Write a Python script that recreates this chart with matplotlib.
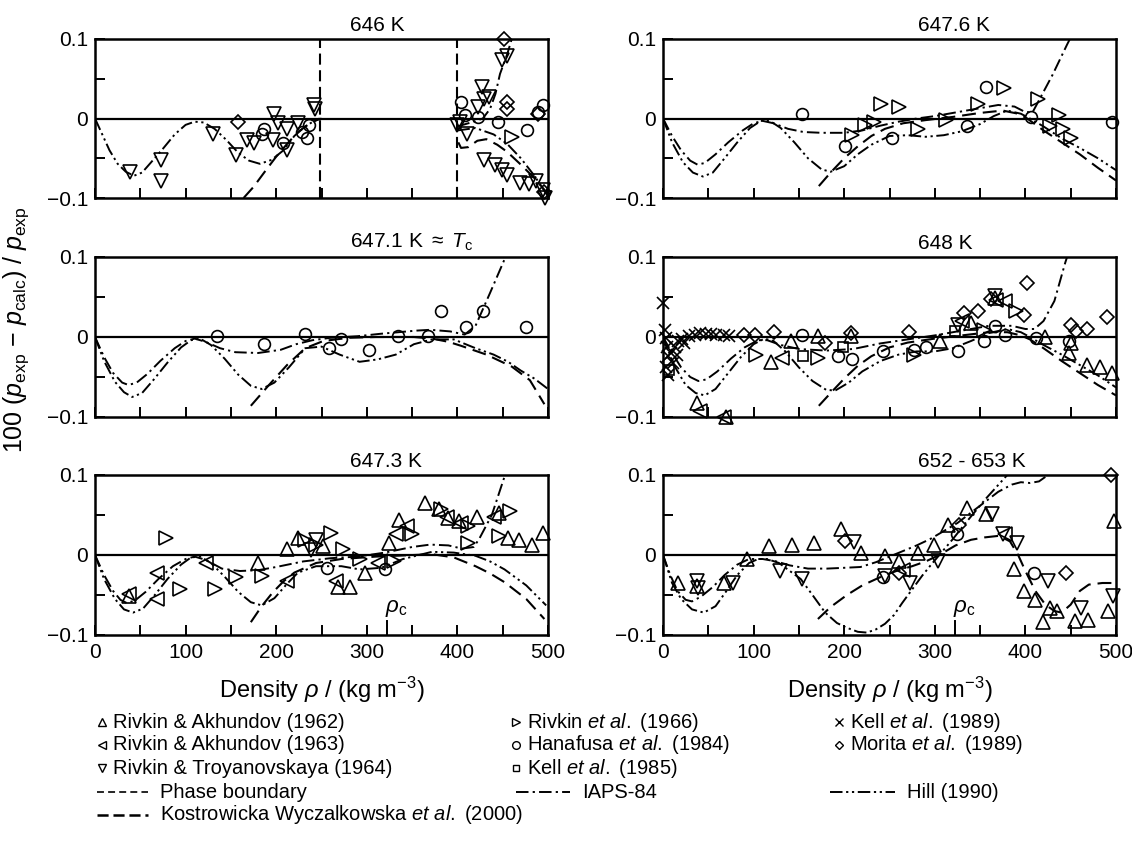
import matplotlib
matplotlib.use('Agg')
import matplotlib.pyplot as plt
from matplotlib.ticker import MultipleLocator

plt.rcParams['font.family'] = ['Liberation Sans', 'DejaVu Sans']
plt.rcParams['mathtext.fontset'] = 'custom'
plt.rcParams['mathtext.rm'] = 'Liberation Sans'
plt.rcParams['mathtext.it'] = 'Liberation Sans:italic'
plt.rcParams['mathtext.bf'] = 'Liberation Sans:bold'
plt.rcParams['lines.scale_dashes'] = False

# ---------------- data (density kg/m3, 100*dp/p) ----------------
# 646 K
t646_rt64 = [(39, -0.067), (73, -0.052), (73, -0.079), (130, -0.019), (156, -0.046),
             (168, -0.027), (176, -0.031), (198, 0.006), (202, -0.006), (196, -0.027),
             (212, -0.04), (212, -0.013), (224, -0.006), (242, 0.017), (243, 0.012),
             (400, -0.008), (403, -0.004), (411, -0.019), (423, 0.015), (427, 0.04),
             (429, 0.025), (435, 0.027), (449, 0.073), (455, 0.079), (429, -0.052),
             (441, -0.058), (449, -0.065), (455, -0.071), (469, -0.081), (479, -0.083),
             (487, -0.079), (495, -0.09), (497, -0.1)]
t646_han = [(184, -0.019), (186, -0.013), (208, -0.031), (228, -0.017), (234, -0.025),
            (236, -0.008), (404, 0.021), (408, 0.004), (423, 0.002), (445, -0.004),
            (477, -0.015), (489, 0.008), (495, 0.017)]
t646_mor = [(158, -0.004), (451, 0.1), (455, 0.021), (455, 0.012), (489, 0.006), (496, -0.092)]
t646_rv66 = [(460, -0.023)]
t646_phase = [248, 400]
t646_iaps = [(400, -0.01), (415, -0.005), (428, 0.0), (436, 0.012), (442, 0.031),
             (447, 0.056), (455, 0.081), (460, 0.1)]
t646_hill = [(0, 0), (8, -0.02), (16, -0.04), (25, -0.057), (34, -0.067), (43, -0.072),
             (52, -0.068), (62, -0.055), (75, -0.038), (88, -0.02), (100, -0.008),
             (110, -0.004), (120, -0.005), (132, -0.013), (145, -0.027), (158, -0.043),
             (170, -0.053), (182, -0.057), (195, -0.052), (208, -0.04), (220, -0.022),
             (232, -0.01), (242, -0.003), (250, 0.0)]
t646_hill_b = [(400, -0.015), (420, -0.012), (440, -0.02), (455, -0.032), (470, -0.05),
               (485, -0.072), (500, -0.098)]
t646_kw = [(164, -0.1), (175, -0.086), (188, -0.066), (200, -0.048), (212, -0.032),
           (224, -0.017), (236, -0.007), (248, 0.0)]
t646_kw_b = [(401, -0.03), (404, -0.037), (412, -0.036), (422, -0.028), (432, -0.026),
             (444, -0.033), (455, -0.042), (470, -0.058), (485, -0.075), (500, -0.095)]

# 647.6 K
t6476_han = [(153, 0.006), (201, -0.035), (253, -0.024), (336, -0.01), (356, 0.039),
             (406, 0.002), (496, -0.004)]
t6476_rv66 = [(241, 0.018), (261, 0.015), (209, -0.021), (223, -0.008), (233, -0.005),
              (281, -0.013), (312, -0.002), (348, 0.018), (376, 0.038), (414, 0.024),
              (437, 0.004), (427, -0.01), (442, -0.013), (450, -0.025)]
t6476_iaps = [(0, 0), (10, -0.022), (20, -0.04), (30, -0.053), (38, -0.058), (46, -0.056),
              (58, -0.045), (72, -0.03), (88, -0.015), (100, -0.006), (110, -0.003),
              (122, -0.006), (138, -0.013), (155, -0.017), (175, -0.018), (200, -0.018),
              (220, -0.015), (240, -0.009), (260, -0.004), (280, 0.0), (300, 0.003),
              (320, 0.007), (345, 0.012), (370, 0.017), (388, 0.015), (400, 0.008),
              (408, 0.008), (416, 0.025), (430, 0.055), (446, 0.093), (450, 0.102)]
t6476_hill = [(0, 0), (10, -0.03), (22, -0.055), (33, -0.068), (44, -0.073), (55, -0.068),
              (68, -0.05), (82, -0.03), (96, -0.012), (108, -0.003), (118, -0.003),
              (130, -0.012), (145, -0.03), (160, -0.05), (175, -0.064), (185, -0.067),
              (200, -0.06), (215, -0.045), (230, -0.033), (250, -0.022), (270, -0.021),
              (290, -0.023), (310, -0.021), (330, -0.016), (350, -0.007), (365, 0.003),
              (380, 0.01), (395, 0.006), (405, 0.0), (420, -0.01), (440, -0.025),
              (460, -0.037), (480, -0.05), (500, -0.065)]
t6476_kw = [(172, -0.085), (185, -0.068), (200, -0.05), (215, -0.035), (230, -0.022),
            (245, -0.013), (265, -0.006), (290, -0.002), (320, 0.002), (350, 0.007),
            (375, 0.01), (392, 0.006), (402, 0.0), (420, -0.015), (440, -0.03),
            (460, -0.045), (480, -0.062), (500, -0.078)]

# 647.1 K
t6471_han = [(135, 0.001), (187, -0.009), (232, 0.004), (258, -0.014), (272, -0.003),
             (302, -0.016), (334, 0.001), (368, 0.001), (382, 0.032), (410, 0.013),
             (428, 0.032), (476, 0.013)]
t6471_iaps = [(0, 0), (10, -0.025), (20, -0.045), (30, -0.057), (37, -0.06), (46, -0.057),
              (58, -0.046), (72, -0.03), (88, -0.014), (100, -0.005), (110, -0.002),
              (122, -0.006), (138, -0.014), (155, -0.019), (180, -0.02), (205, -0.016),
              (222, -0.009), (240, -0.004), (260, -0.001), (290, 0.001), (315, 0.004),
              (335, 0.006), (355, 0.008), (370, 0.009), (392, 0.007), (408, 0.003),
              (420, 0.014), (436, 0.055), (452, 0.097), (454, 0.102)]
t6471_hill = [(0, 0), (10, -0.03), (22, -0.056), (32, -0.069), (41, -0.075), (52, -0.07),
              (65, -0.053), (80, -0.032), (95, -0.013), (106, -0.004), (116, -0.002),
              (128, -0.01), (143, -0.027), (158, -0.047), (172, -0.061), (184, -0.065),
              (198, -0.057), (214, -0.038), (232, -0.014), (250, -0.012), (270, -0.022),
              (292, -0.031), (312, -0.028), (332, -0.022), (352, -0.009), (372, -0.003),
              (396, -0.003), (420, -0.014), (440, -0.022), (456, -0.031), (470, -0.042),
              (485, -0.052), (500, -0.065)]
t6471_kw = [(172, -0.086), (192, -0.06), (212, -0.035), (232, -0.014), (252, -0.005),
            (280, -0.001), (310, 0.0), (332, 0.0), (352, 0.0), (372, -0.002),
            (390, -0.006), (404, -0.011), (432, -0.022), (460, -0.037), (480, -0.054),
            (496, -0.084)]

# 648 K
t648_ra62 = [(38, -0.083), (69, -0.1), (119, -0.031), (141, -0.005), (171, 0.001),
             (207, 0.001), (306, -0.005), (340, 0.018), (366, 0.049), (422, 0.0),
             (450, -0.008), (448, -0.02), (468, -0.035), (482, -0.037), (496, -0.045)]
t648_ra63 = [(41, -0.093), (67, -0.1), (131, -0.026), (368, 0.046), (378, 0.045),
             (330, 0.02)]
t648_rt64 = [(366, 0.051), (326, 0.015)]
t648_rv66 = [(103, -0.022), (171, -0.026), (277, -0.022), (354, 0.009), (390, 0.032)]
t648_han = [(153, 0.002), (193, -0.024), (209, -0.028), (243, -0.018), (277, -0.016),
            (290, -0.012), (326, -0.018), (354, -0.005), (366, 0.014), (378, 0.003),
            (412, -0.001), (448, -0.005)]
t648_k85 = [(7, -0.041), (155, -0.024), (199, -0.012), (322, 0.007)]
t648_k89 = [(0, 0.043), (2, 0.009), (3, -0.001), (4, -0.012), (5, -0.024), (3, -0.037),
            (5, -0.047), (9, -0.02), (11, -0.033), (13, -0.012), (15, -0.022),
            (17, -0.005), (21, -0.003), (23, -0.008), (29, 0.001), (35, 0.003),
            (41, 0.005), (47, 0.004), (53, 0.004), (59, 0.003), (67, 0.002), (73, 0.001)]
t648_mor = [(89, 0.002), (101, 0.003), (123, 0.006), (179, -0.008), (207, 0.005),
            (271, 0.006), (332, 0.03), (348, 0.032), (362, 0.047), (398, 0.027),
            (402, 0.067), (450, 0.015), (456, 0.007), (468, 0.01), (490, 0.025)]
t648_iaps = [(0, 0), (10, -0.02), (20, -0.038), (30, -0.05), (39, -0.055), (48, -0.053),
             (60, -0.043), (75, -0.027), (90, -0.013), (105, -0.004), (115, -0.004),
             (130, -0.01), (150, -0.015), (180, -0.017), (210, -0.015), (240, -0.008),
             (270, -0.003), (300, 0.002), (330, 0.008), (360, 0.014), (385, 0.014),
             (400, 0.01), (410, 0.01), (420, 0.02), (432, 0.045), (444, 0.093), (446, 0.1)]
t648_hill = [(0, 0), (12, -0.035), (25, -0.06), (36, -0.07), (46, -0.073), (58, -0.065),
             (72, -0.045), (86, -0.025), (100, -0.009), (112, -0.002), (122, -0.005),
             (135, -0.018), (150, -0.038), (165, -0.055), (180, -0.066), (190, -0.067),
             (205, -0.057), (220, -0.043), (240, -0.03), (260, -0.022), (280, -0.018),
             (300, -0.018), (320, -0.014), (340, -0.005), (360, 0.005), (380, 0.01),
             (395, 0.006), (405, 0.0), (420, -0.01), (440, -0.022), (460, -0.035),
             (480, -0.048), (500, -0.063)]
t648_kw = [(172, -0.086), (185, -0.07), (200, -0.052), (215, -0.036), (230, -0.024),
           (250, -0.013), (270, -0.007), (300, -0.002), (330, 0.002), (360, 0.006),
           (380, 0.006), (395, 0.002), (405, -0.003), (420, -0.014), (440, -0.03),
           (460, -0.045), (480, -0.06), (500, -0.073)]

# 647.3 K
t6473_ra62 = [(38, -0.051), (180, -0.01), (212, 0.007), (224, 0.021), (252, 0.011),
              (268, -0.04), (282, -0.04), (298, -0.022), (324, 0.015), (336, 0.044),
              (364, 0.065), (380, 0.057), (390, 0.046), (402, 0.042), (422, 0.048),
              (446, 0.052), (456, 0.021), (468, 0.019), (482, 0.013), (494, 0.028)]
t6473_ra63 = [(38, -0.049), (68, -0.055), (68, -0.022), (122, -0.01), (212, -0.032),
              (266, -0.032), (312, -0.01), (332, 0.026), (344, 0.036), (388, 0.048),
              (404, 0.04), (440, 0.048)]
t6473_rv66 = [(78, 0.021), (94, -0.043), (132, -0.043), (156, -0.028), (184, -0.026),
              (232, 0.019), (244, 0.013), (260, 0.028), (274, 0.007), (292, -0.005),
              (330, -0.007), (350, 0.026), (382, 0.057), (412, 0.036), (412, 0.015),
              (446, 0.024), (458, 0.055)]
t6473_rt64 = [(244, 0.019), (238, 0.006)]
t6473_han = [(256, -0.016), (320, -0.018)]
t6473_iaps = [(0, 0), (10, -0.025), (20, -0.045), (28, -0.056), (35, -0.06), (44, -0.057),
              (56, -0.046), (70, -0.03), (86, -0.014), (100, -0.005), (110, -0.002),
              (122, -0.006), (140, -0.017), (160, -0.02), (180, -0.019), (200, -0.015),
              (230, -0.008), (260, -0.004), (290, -0.002), (320, 0.003), (350, 0.01),
              (370, 0.013), (390, 0.012), (405, 0.008), (418, 0.01), (424, 0.02),
              (438, 0.05), (452, 0.098), (453, 0.102)]
t6473_hill = [(0, 0), (10, -0.03), (22, -0.055), (32, -0.068), (42, -0.072), (53, -0.067),
              (66, -0.05), (80, -0.03), (95, -0.012), (106, -0.003), (116, -0.002),
              (128, -0.01), (143, -0.027), (158, -0.046), (172, -0.059), (184, -0.063),
              (198, -0.054), (212, -0.036), (224, -0.022), (244, -0.014), (272, -0.014),
              (292, -0.018), (316, -0.016), (340, -0.005), (372, 0.004), (396, 0.003),
              (420, -0.001), (436, -0.008), (452, -0.018), (476, -0.038), (498, -0.063)]
t6473_kw = [(172, -0.084), (184, -0.064), (196, -0.047), (208, -0.033), (220, -0.022),
            (244, -0.01), (272, -0.005), (310, -0.002), (352, 0.0), (372, 0.001),
            (396, -0.003), (420, -0.014), (436, -0.023), (452, -0.034), (476, -0.055),
            (496, -0.08)]

# 652 - 653 K
t652_ra62 = [(17, -0.035), (37, -0.039), (67, -0.035), (93, -0.005), (117, 0.011),
             (142, 0.013), (167, 0.015), (197, 0.032), (219, 0.003), (245, -0.001),
             (261, -0.008), (281, 0.003), (299, 0.013), (315, 0.038), (335, 0.059),
             (357, 0.051), (387, -0.018), (399, -0.045), (411, -0.056), (427, -0.066),
             (435, -0.07), (419, -0.084), (455, -0.083), (469, -0.081), (491, -0.07),
             (498, 0.043)]
t652_rt64 = [(37, -0.033), (39, -0.041), (77, -0.035), (129, -0.02), (153, -0.03),
             (211, 0.016), (245, -0.026), (273, -0.035), (303, -0.008), (363, 0.051),
             (375, 0.026), (391, 0.015), (425, -0.033), (461, -0.066), (497, -0.051)]
t652_han = [(243, -0.028), (325, 0.026), (409, -0.022)]
t652_mor = [(201, 0.018), (261, -0.022), (327, 0.038), (445, -0.022), (495, 0.1)]
t652_ra63 = [(377, 0.026), (265, -0.019)]
t652_iaps = [(0, 0), (8, -0.025), (16, -0.045), (25, -0.056), (32, -0.058), (42, -0.052),
             (55, -0.04), (68, -0.025), (82, -0.012), (95, -0.005), (110, -0.005),
             (125, -0.008), (140, -0.013), (160, -0.017), (181, -0.017), (200, -0.016),
             (218, -0.015), (235, -0.009), (250, -0.002), (265, 0.005), (280, 0.012),
             (295, 0.02), (310, 0.03), (325, 0.04), (340, 0.053), (355, 0.066),
             (370, 0.079), (385, 0.088), (395, 0.091), (405, 0.09), (415, 0.092), (425, 0.1)]
t652_hill = [(0, 0), (10, -0.035), (20, -0.055), (32, -0.068), (45, -0.072), (58, -0.064),
             (70, -0.045), (82, -0.025), (95, -0.01), (105, -0.005), (115, -0.005),
             (128, -0.01), (140, -0.02), (152, -0.03), (165, -0.05), (179, -0.072),
             (192, -0.085), (203, -0.091), (215, -0.096), (225, -0.097), (235, -0.093),
             (245, -0.086), (255, -0.075), (264, -0.06), (275, -0.043), (286, -0.026),
             (296, -0.012), (305, 0.0), (320, 0.02), (334, 0.04), (345, 0.055),
             (356, 0.07), (368, 0.085), (380, 0.1)]
t652_kw = [(171, -0.08), (185, -0.065), (203, -0.05), (220, -0.038), (243, -0.026),
           (260, -0.019), (275, -0.014), (290, -0.008), (305, 0.0), (323, 0.012),
           (340, 0.019), (355, 0.022), (371, 0.024), (383, 0.017), (392, 0.0),
           (400, -0.02), (411, -0.045), (422, -0.062), (432, -0.07), (440, -0.072),
           (450, -0.062), (460, -0.045), (470, -0.037), (485, -0.035), (500, -0.035)]

rho_c = 322

# ---------------- styles ----------------
MARK = {
    'ra62': ('^', 9.5), 'ra63': ('<', 9.5), 'rt64': ('v', 9.5), 'rv66': ('>', 9.5),
    'han': ('o', 8.5), 'k85': ('s', 7.5), 'k89': ('x', 8.5), 'mor': ('D', 7),
}
IAPS_LS = (0, (9, 3, 1.6, 3))
HILL_LS = (0, (9, 2.6, 1.6, 2.6, 1.6, 2.6))
KW_LS = (0, (10, 5))
PHASE_LS = (0, (8, 4))

TICK_FS = 15
TITLE_FS = 15
LABEL_FS = 17
LEG_FS = 14.5

panels = [
    dict(title='646 K', pos=(0, 0),
         pts={'rt64': t646_rt64, 'han': t646_han, 'mor': t646_mor, 'rv66': t646_rv66},
         iaps=[t646_iaps], hill=[t646_hill, t646_hill_b], kw=[t646_kw, t646_kw_b],
         phase=t646_phase, rhoc=False),
    dict(title='647.6 K', pos=(1, 0),
         pts={'han': t6476_han, 'rv66': t6476_rv66},
         iaps=[t6476_iaps], hill=[t6476_hill], kw=[t6476_kw], phase=[], rhoc=False),
    dict(title=r'647.1 K $\approx$ $T_{\mathrm{c}}$', pos=(0, 1),
         pts={'han': t6471_han},
         iaps=[t6471_iaps], hill=[t6471_hill], kw=[t6471_kw], phase=[], rhoc=False),
    dict(title='648 K', pos=(1, 1),
         pts={'ra62': t648_ra62, 'ra63': t648_ra63, 'rt64': t648_rt64, 'rv66': t648_rv66,
              'han': t648_han, 'k85': t648_k85, 'k89': t648_k89, 'mor': t648_mor},
         iaps=[t648_iaps], hill=[t648_hill], kw=[t648_kw], phase=[], rhoc=False),
    dict(title='647.3 K', pos=(0, 2),
         pts={'ra62': t6473_ra62, 'ra63': t6473_ra63, 'rv66': t6473_rv66,
              'rt64': t6473_rt64, 'han': t6473_han},
         iaps=[t6473_iaps], hill=[t6473_hill], kw=[t6473_kw], phase=[], rhoc=True),
    dict(title='652 - 653 K', pos=(1, 2),
         pts={'ra62': t652_ra62, 'rt64': t652_rt64, 'han': t652_han, 'mor': t652_mor,
              'ra63': t652_ra63},
         iaps=[t652_iaps], hill=[t652_hill], kw=[t652_kw], phase=[], rhoc=True),
]

W, H = 1132, 860
fig = plt.figure(figsize=(W / 100, H / 100), dpi=100)

col_x = [95, 663]
row_y = [(39, 198), (257, 417), (475, 635)]
ax_w = 453


def line(ax, pts, ls, lw=1.4):
    xs, ys = zip(*pts)
    ax.plot(xs, ys, color='black', lw=lw, linestyle=ls, dash_capstyle='butt')


for p in panels:
    c, r = p['pos']
    top, bot = row_y[r]
    ax = fig.add_axes([col_x[c] / W, 1 - bot / H, ax_w / W, (bot - top) / H])
    ax.set_xlim(0, 500)
    ax.set_ylim(-0.1, 0.1)
    for s in ax.spines.values():
        s.set_linewidth(1.8)
    ax.axhline(0, color='black', lw=1.6)
    for xv in p['phase']:
        ax.axvline(xv, color='black', lw=1.5, linestyle=PHASE_LS)
    for seg in p['kw']:
        line(ax, seg, KW_LS, 1.5)
    for seg in p['iaps']:
        line(ax, seg, IAPS_LS)
    for seg in p['hill']:
        line(ax, seg, HILL_LS)
    for key, pts in p['pts'].items():
        m, ms = MARK[key]
        xs, ys = zip(*pts)
        ax.plot(xs, ys, linestyle='none', marker=m, ms=ms, mfc='none', mec='black',
                mew=1.2, clip_on=False, zorder=3)
    if p['rhoc']:
        ax.plot([rho_c, rho_c], [-0.1, -0.082], color='black', lw=1.4)
        ax.text(rho_c - 2, -0.08, r'$\rho_{\mathrm{c}}$', fontsize=16,
                ha='left', va='bottom')

    ax.set_xticks(range(0, 501, 100))
    ax.xaxis.set_minor_locator(MultipleLocator(50))
    ax.set_yticks([-0.1, -0.05, 0, 0.05, 0.1])
    ax.set_yticklabels(['\u22120.1', '', '0', '', '0.1'])
    ax.tick_params(which='both', direction='in', length=7.5, width=1.4,
                   top=False, right=False, labelsize=TICK_FS)
    ax.tick_params(axis='y', pad=5)
    ax.tick_params(axis='x', pad=6)
    if r < 2:
        ax.set_xticklabels([])
    else:
        ax.set_xlabel(r'Density $\rho$ / (kg m$^{-3}$)', fontsize=LABEL_FS, labelpad=9)
    ax.text(0.563, 1.025, p['title'], transform=ax.transAxes, fontsize=TITLE_FS,
            ha='left', va='bottom')

fig.text(16 / W, 1 - 330 / H,
         r'100 ($p_{\mathrm{exp}}$ $-$ $p_{\mathrm{calc}}$) / $p_{\mathrm{exp}}$',
         rotation=90, ha='center', va='center', fontsize=18)

# ---------------- legend ----------------
lg = fig.add_axes([0, 0, 1, 1])
lg.set_xlim(0, W)
lg.set_ylim(H, 0)
lg.axis('off')

leg_rows = [722, 745, 768, 792, 815]
marker_items = [
    ('ra62', 102, leg_rows[0], 'Rivkin & Akhundov (1962)'),
    ('ra63', 102, leg_rows[1], 'Rivkin & Akhundov (1963)'),
    ('rt64', 102, leg_rows[2], 'Rivkin & Troyanovskaya (1964)'),
    ('rv66', 516, leg_rows[0], r'Rivkin $\mathit{et\ al.}$ (1966)'),
    ('han', 516, leg_rows[1], r'Hanafusa $\mathit{et\ al.}$ (1984)'),
    ('k85', 516, leg_rows[2], r'Kell $\mathit{et\ al.}$ (1985)'),
    ('k89', 839, leg_rows[0], r'Kell $\mathit{et\ al.}$ (1989)'),
    ('mor', 839, leg_rows[1], r'Morita $\mathit{et\ al.}$ (1989)'),
]
for key, x, y, label in marker_items:
    m, ms = MARK[key]
    lg.plot([x], [y], marker=m, ms=ms * 0.65, mfc='none', mec='black', mew=1.0,
            linestyle='none')
    lg.text(x + 11, y, label, fontsize=LEG_FS, ha='left', va='center')

line_items = [
    (97, 148, leg_rows[3], (0, (5, 3)), 1.2, 'Phase boundary'),
    (97, 148, leg_rows[4], (0, (8, 3.5)), 1.8, r'Kostrowicka Wyczalkowska $\mathit{et\ al.}$ (2000)'),
    (516, 570, leg_rows[3], IAPS_LS, 1.4, 'IAPS-84'),
    (830, 895, leg_rows[3], HILL_LS, 1.4, 'Hill (1990)'),
]
for x0, x1, y, ls, lw, label in line_items:
    lg.plot([x0, x1], [y, y], color='black', lw=lw, linestyle=ls, dash_capstyle='butt')
    lg.text(x1 + 12, y, label, fontsize=LEG_FS, ha='left', va='center')

fig.savefig('out.png', dpi=100)
